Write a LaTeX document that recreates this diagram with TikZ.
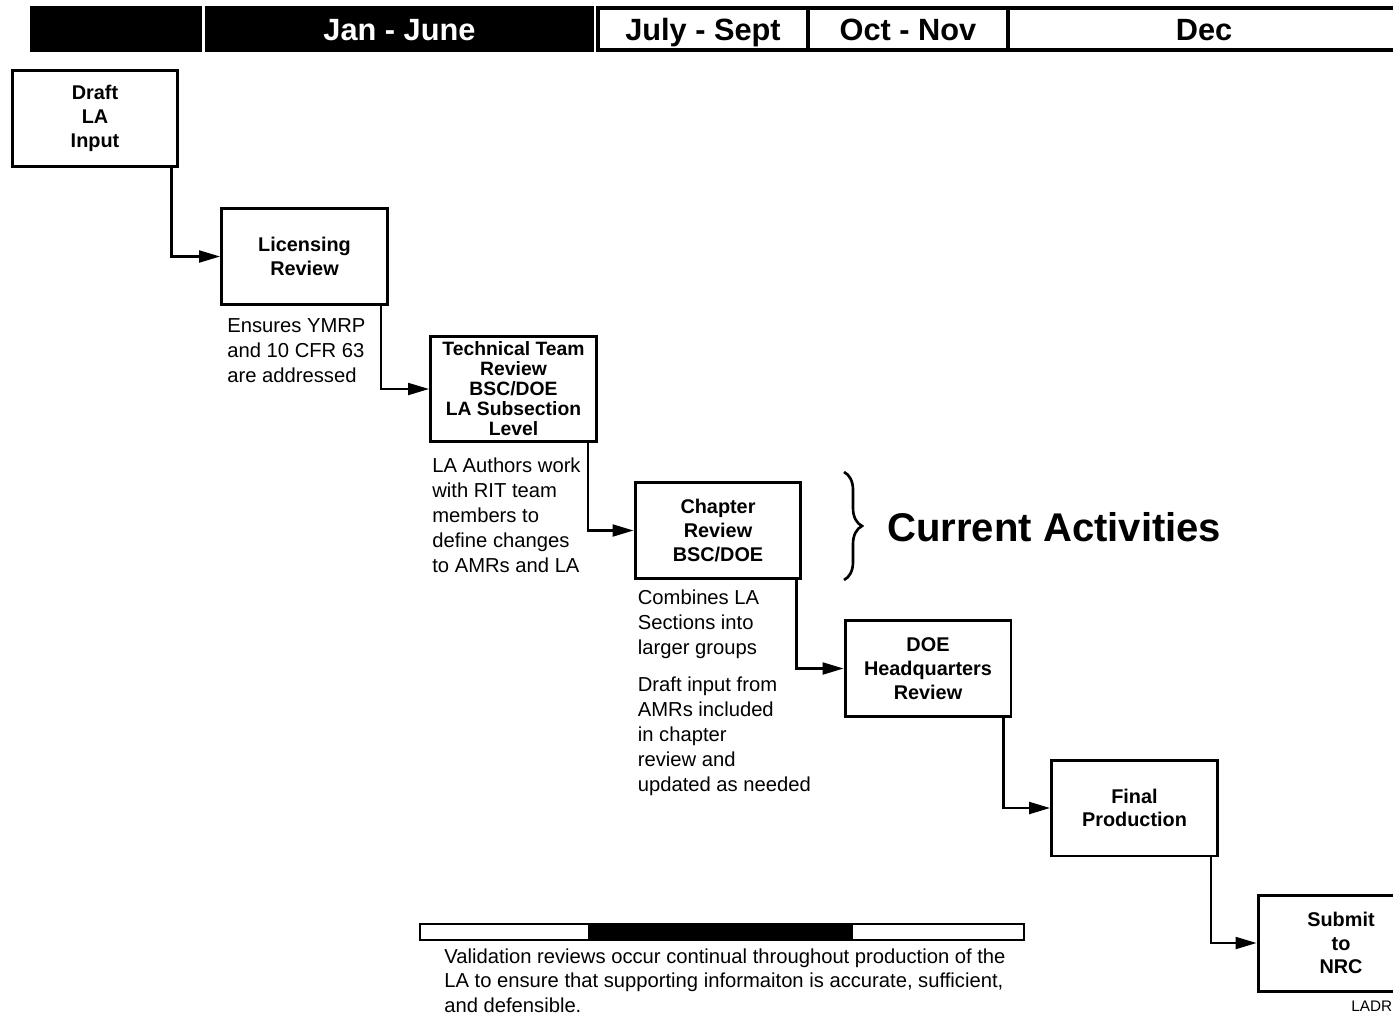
\documentclass[tikz,border=0pt]{standalone}
\usepackage{fontspec}
\setmainfont{Liberation Sans}
\usetikzlibrary{arrows.meta, decorations.pathreplacing, positioning}

\tikzset{
  stage/.style={draw, line width=1.7pt, minimum width=3.32cm, minimum height=1.92cm,
                align=center, inner sep=2pt, font=\bfseries\fontsize{11.3}{13.5}\selectfont},
  note/.style={align=left, inner sep=0pt, font=\fontsize{11.5}{14.2}\selectfont},
  hcell/.style={draw, line width=1.8pt, minimum height=0.84cm, inner sep=0pt, outer sep=0pt,
                text height=12.6pt, text depth=0pt, font=\bfseries\fontsize{17.5}{20}\selectfont},
  link/.style={-{Triangle[length=0.42cm, width=0.24cm]}, line width=1.2pt},
  brace/.style={decorate, decoration={brace, amplitude=0.36cm}, line width=1.5pt},
}

\begin{document}
\begin{tikzpicture}[x=0.02cm, y=-0.02cm]
\useasboundingbox (0,0) rectangle (1393,1015);
% Header
\node[hcell, fill=black, minimum width=3.36cm] (hblank) at (116,29) {};
\node[hcell, fill=black, text=white, minimum width=7.7cm] (hjan) at (399.5,29) {Jan - June};
\node[hcell, minimum width=4.2cm] (hjul) at (703,29) {July - Sept};
\node[hcell, minimum width=4cm] (hoct) at (908,29) {Oct - Nov};
\node[hcell, minimum width=7.84cm] (hdec) at (1204,29) {Dec};
% Stages
\node[stage] (draft) at (95,118.5) {Draft\\LA\\Input};
\node[stage] (lic) at (304.5,256.5) {Licensing\\Review};
\node[stage, minimum height=2.1cm, font=\bfseries\fontsize{11}{11.4}\selectfont] (tech) at (513.5,389) {Technical Team\\Review\\BSC/DOE\\LA Subsection\\Level};
\node[stage] (chap) at (718,530.5) {Chapter\\Review\\BSC/DOE};
\node[stage] (doe) at (928,668.5) {DOE\\Headquarters\\Review};
\node[stage] (final) at (1134.5,808) {Final\\Production};
\node[stage] (submit) at (1341,943) {Submit\\to\\NRC};
% Notes
\node[note, below right=0.24cm and 0.14cm of lic.south west] (ensure) {Ensures YMRP\\and 10 CFR 63\\are addressed};
\node[note, below right=0.3cm and 0.06cm of tech.south west] (authors) {LA Authors work\\with RIT team\\members to\\define changes\\to AMRs and LA};
\node[note, below right=0.2cm and 0.08cm of chap.south west] (combine) {Combines LA\\Sections into\\larger groups};
\node[note, below=0.34cm of combine.south west, anchor=north west] (amrs) {Draft input from\\AMRs included\\in chapter\\review and\\updated as needed};
% Arrows
\draw[link] ([xshift=-0.16cm]draft.south east) |- (lic);
\draw[link] ([xshift=-0.16cm]lic.south east) |- (tech);
\draw[link] ([xshift=-0.2cm]tech.south east) |- (chap);
\draw[link] ([xshift=-0.12cm]chap.south east) |- (doe);
\draw[link] ([xshift=-0.18cm]doe.south east) |- (final);
\draw[link] ([xshift=-0.16cm]final.south east) |- (submit);
% Current activities
\draw[brace] (844,472) -- (844,580);
\node[anchor=west, inner sep=0pt, font=\bfseries\fontsize{22.8}{26}\selectfont] (current) at (887,527) {Current Activities};
% Validation
\node[draw, line width=1.2pt, minimum width=12.08cm, minimum height=0.32cm, inner sep=0pt,
      path picture={\fill ([xshift=3.36cm]path picture bounding box.south west) rectangle ([xshift=-3.42cm]path picture bounding box.north east);}] (valbar) at (722,932) {};
\node[note, below right=0.14cm and 0.5cm of valbar.south west, font=\fontsize{11.5}{14}\selectfont] (valid) {Validation reviews occur continual throughout production of the\\LA to ensure that supporting informaiton is accurate, sufficient,\\and defensible.};
\node[anchor=base west, inner sep=0pt, font=\fontsize{8.7}{10}\selectfont] (ladr) at (1351,1011) {LADR};
\end{tikzpicture}
\end{document}
